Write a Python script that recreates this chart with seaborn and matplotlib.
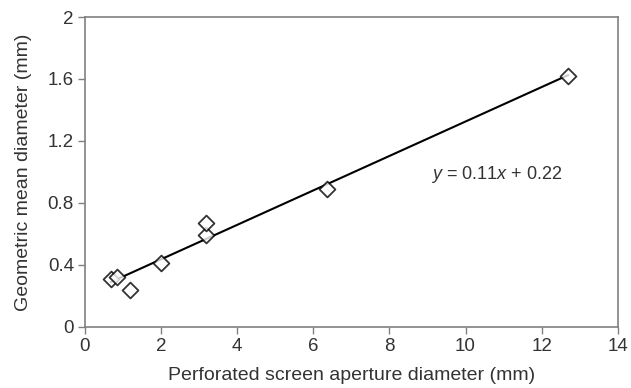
import matplotlib
matplotlib.use("Agg")
import matplotlib.pyplot as plt
import seaborn as sns
import pandas as pd

aperture_mm = [0.675, 0.83, 1.18, 2.0, 3.175, 3.175, 6.35, 12.7]
gmd_mm = [0.31, 0.32, 0.24, 0.41, 0.59, 0.67, 0.89, 1.62]
x_ticks = [0, 2, 4, 6, 8, 10, 12, 14]
y_ticks = [0, 0.4, 0.8, 1.2, 1.6, 2]
y_tick_labels = ["0", "0.4", "0.8", "1.2", "1.6", "2"]

df = pd.DataFrame({"x": aperture_mm, "y": gmd_mm})

sns.set_style("ticks")
plt.rcParams['font.family'] = ['Liberation Sans', 'DejaVu Sans']
plt.rcParams['mathtext.fontset'] = 'custom'
plt.rcParams['mathtext.rm'] = 'Liberation Sans'
plt.rcParams['mathtext.it'] = 'Liberation Sans:italic'

txt = "#333333"
spine = "#808080"

fig = plt.figure(figsize=(6.31, 3.88), dpi=100)
ax = fig.add_axes([0.1347, 0.158, 0.8443, 0.798])

sns.regplot(data=df, x="x", y="y", ax=ax, ci=None, truncate=True,
            marker="D",
            scatter_kws=dict(s=65, facecolors="white", edgecolors="black", linewidths=1.3, zorder=3),
            line_kws=dict(color="black", lw=1.5, zorder=2))

ax.set_xlim(0, 14)
ax.set_ylim(0, 2)
ax.set_xticks(x_ticks)
ax.set_yticks(y_ticks)
ax.set_yticklabels(y_tick_labels)
ax.tick_params(axis="both", direction="out", length=5, width=1, color=spine,
               labelsize=13.5, labelcolor=txt, pad=3)
for s in ax.spines.values():
    s.set_color(spine)
    s.set_linewidth(1.2)
ax.set_xlabel("Perforated screen aperture diameter (mm)", fontsize=14, color=txt, labelpad=9)
ax.set_ylabel("Geometric mean diameter (mm)", fontsize=14, color=txt, labelpad=11)

ax.text(9.1, 0.98, r"$\it{y}$ = 0.11$\it{x}$ + 0.22", fontsize=13, color=txt,
        ha="left", va="center")

fig.savefig("out.png", dpi=100)
